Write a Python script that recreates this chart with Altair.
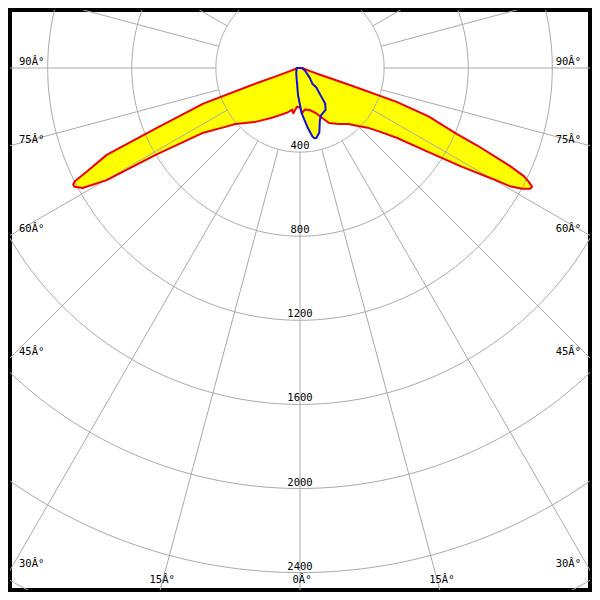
import altair as alt
import pandas as pd
import numpy as np

red_angle = [-90, -80, -73, -71.0, -70.6, -69.8, -67.2, -65.8, -64.1, -63.3,
             -62.8, -62.2, -61.1, -59.9, -59.0, -56.2, -52.4, -49.1, -40.0, -30.1,
             -22.4, -15.8, -10.5, -8.5, -4.3, 0, 2.5, 6.6, 12.9, 19.9,
             24.0, 27.8, 34.6, 40.8, 45.0, 48.6, 51.5, 54.2, 56.8, 58.6,
             60.1, 60.6, 61.5, 62.3, 62.9, 63.5, 64.2, 65.0, 66.4, 67.2,
             69.4, 70.7, 71.2, 71.5, 73, 80, 90]
red_cd = [15, 20, 50, 122, 243, 490, 748, 1008, 1125, 1199,
          1213, 1212, 1181, 1063, 804, 553, 465, 407, 336, 275,
          241, 220, 201, 218, 184, 188, 215, 199, 205, 230,
          260, 296, 324, 352, 390, 429, 488, 567, 731, 900,
          1061, 1145, 1203, 1236, 1240, 1217, 1184, 1101, 918, 808,
          653, 487, 243, 97, 50, 20, 15]

blue_angle = [90, 63.4, 45, 37.9, 39.9, 36.8, 35.3, 31.5, 23.9, 20.8,
              16.7, 13.2, 11.7, 10.4, 7.4, 2.1, -4.0, -13.9, -38.7, -90]
blue_cd = [8, 26, 65, 97, 120, 167, 207, 233, 246, 266,
           320, 342, 341, 332, 287, 215, 131, 63, 29, 15]

ring_values = [400, 800, 1200, 1600, 2000, 2400, 2800]
ring_labels = ["400", "800", "1200", "1600", "2000", "2400"]
spoke_angles = list(range(0, 360, 15))
side_angles = [90, 75, 60, 45, 30]
side_labels = ["90Â°", "75Â°", "60Â°", "45Â°", "30Â°"]
bottom_angles = [-15, 0, 15]
bottom_labels = ["15Â°", "0Â°", "15Â°"]

W = 580
k = 87 / 400.0
XMAX = 300 / k
YTOP = 60 / k
YBOT = -540 / k
xs = alt.Scale(domain=[-XMAX, XMAX], nice=False, zero=False)
ys = alt.Scale(domain=[YBOT, YTOP], nice=False, zero=False)


def polar_df(angles, cds, name, close=False):
    a = list(angles)
    c = list(cds)
    if close:
        a = a + [a[0]]
        c = c + [c[0]]
    t = np.radians(a)
    return pd.DataFrame({"c": name, "i": range(len(a)),
                         "x": np.array(c) * np.sin(t),
                         "y": -np.array(c) * np.cos(t)})


red_fill = polar_df(red_angle, red_cd, "red")
blue_fill = polar_df(blue_angle, blue_cd, "blue")
red_line = polar_df(red_angle, red_cd, "red", close=True)
blue_line = polar_df(blue_angle, blue_cd, "blue", close=True)

phi = np.arange(0, 361, 1)
rings = pd.concat([
    pd.DataFrame({"r": r, "phi": phi,
                  "x": r * np.sin(np.radians(phi)),
                  "y": -r * np.cos(np.radians(phi))}) for r in ring_values
])

ta = np.radians(spoke_angles)
spokes = pd.DataFrame({
    "x": 400 * np.sin(ta), "y": -400 * np.cos(ta),
    "x2": 3500 * np.sin(ta), "y2": -3500 * np.cos(ta)})

left_lab = pd.DataFrame({"x": -XMAX,
                         "y": [-XMAX / np.tan(np.radians(a)) if a != 90 else 0.0 for a in side_angles],
                         "t": side_labels})
right_lab = left_lab.assign(x=XMAX)
bot_lab = pd.DataFrame({"x": [-YBOT * np.tan(np.radians(a)) for a in bottom_angles],
                        "y": YBOT, "t": bottom_labels})
ring_lab = pd.DataFrame({"x": 0.0, "y": [-float(v) for v in ring_values[:len(ring_labels)]],
                         "t": ring_labels})

X = alt.X("x:Q", scale=xs, axis=None)
Y = alt.Y("y:Q", scale=ys, axis=None)

fill_r = alt.Chart(red_fill).mark_line(filled=True, color="#FFFF00", clip=True).encode(
    x=X, y=Y, order="i:Q")
fill_b = alt.Chart(blue_fill).mark_line(filled=True, color="#FFFF00", clip=True).encode(
    x=X, y=Y, order="i:Q")

ring_layer = alt.Chart(rings).mark_line(color="#AAAAAA", strokeWidth=1, clip=True).encode(
    x=X, y=Y, detail="r:N", order="phi:Q")
spoke_layer = alt.Chart(spokes).mark_rule(color="#AAAAAA", strokeWidth=1, clip=True).encode(
    x=X, y=Y, x2="x2:Q", y2="y2:Q")

line_r = alt.Chart(red_line).mark_line(color="#EE0000", strokeWidth=2, strokeJoin="round").encode(
    x=X, y=Y, order="i:Q")
line_b = alt.Chart(blue_line).mark_line(color="#1010E0", strokeWidth=2, strokeJoin="round").encode(
    x=X, y=Y, order="i:Q")

font = "DejaVu Sans Mono"
fs = 10.5
txt_left = alt.Chart(left_lab).mark_text(align="left", baseline="alphabetic", dx=9, dy=-3,
                                         font=font, fontSize=fs, color="black").encode(x=X, y=Y, text="t:N")
txt_right = alt.Chart(right_lab).mark_text(align="right", baseline="alphabetic", dx=-9, dy=-3,
                                           font=font, fontSize=fs, color="black").encode(x=X, y=Y, text="t:N")
txt_bot = alt.Chart(bot_lab).mark_text(align="center", baseline="alphabetic", dx=2, dy=-7,
                                       font=font, fontSize=fs, color="black").encode(x=X, y=Y, text="t:N")
txt_ring = alt.Chart(ring_lab).mark_text(align="center", baseline="alphabetic", dy=-3,
                                         font=font, fontSize=fs, color="black").encode(x=X, y=Y, text="t:N")

chart = alt.layer(fill_r, fill_b, ring_layer, spoke_layer, line_r, line_b,
                  txt_left, txt_right, txt_bot, txt_ring).properties(
    width=W, height=W, padding={"left": 2, "top": 2, "right": 2, "bottom": 2},
    background="white"
).configure_view(stroke="black", strokeWidth=4)

chart.save("out.html", embed_options={"renderer": "svg", "actions": False})
